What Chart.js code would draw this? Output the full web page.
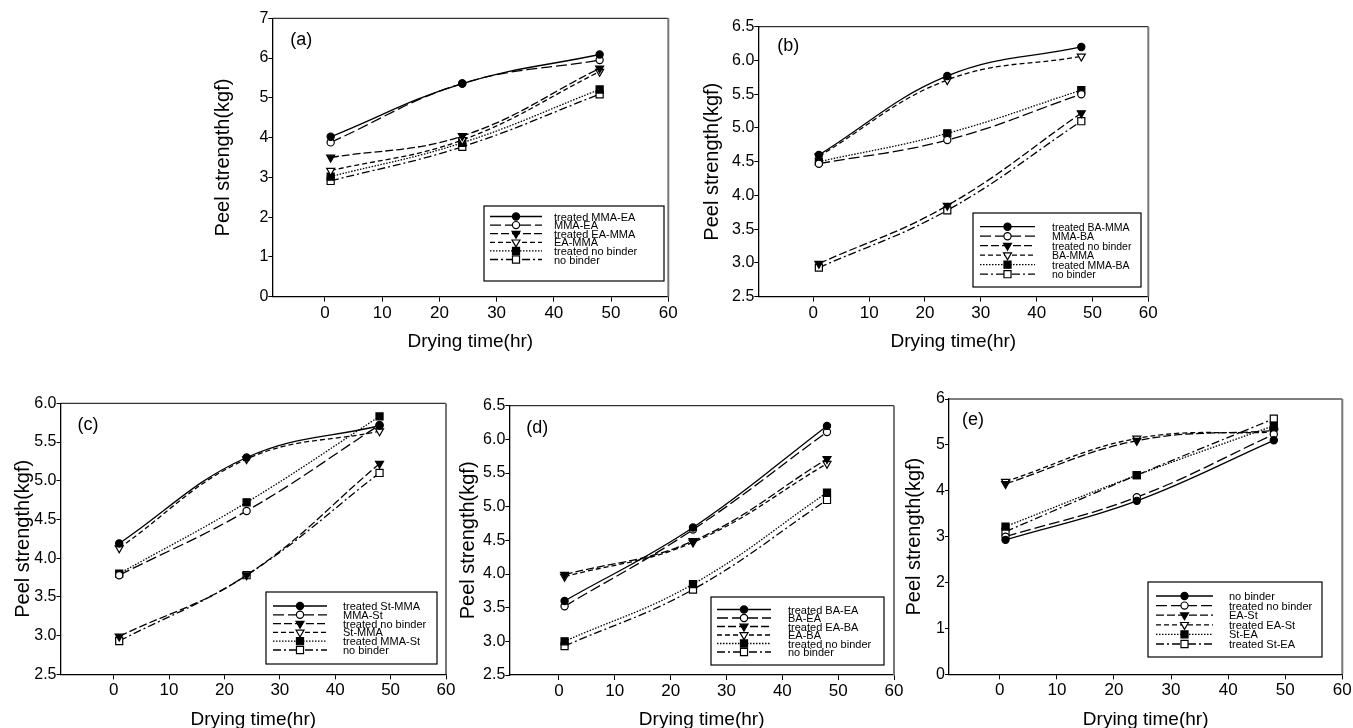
<!DOCTYPE html>
<html>
<head>
<meta charset="utf-8">
<script src="https://cdn.jsdelivr.net/npm/chart.js@4.4.1/dist/chart.umd.min.js"></script>
<style>
html,body{margin:0;padding:0;background:#fff;overflow:hidden;width:1353px;height:728px;}
canvas.panel{position:absolute;left:0;top:0;}
</style>
</head>
<body>
<canvas id="pa" class="panel" width="1353" height="780"></canvas>
<canvas id="pb" class="panel" width="1353" height="780"></canvas>
<canvas id="pc" class="panel" width="1353" height="780"></canvas>
<canvas id="pd" class="panel" width="1353" height="780"></canvas>
<canvas id="pe" class="panel" width="1353" height="780"></canvas>
<script>
// ---------- DATA ----------
const dryingHours = [1, 24, 48];
const xTickValues = [0, 10, 20, 30, 40, 50, 60];

const seriesA = ['treated MMA-EA', 'MMA-EA', 'treated EA-MMA', 'EA-MMA', 'treated no binder', 'no binder'];
const peelA = [[4.02, 5.36, 6.09], [3.88, 5.36, 5.95], [3.50, 4.04, 5.74], [3.17, 3.94, 5.66], [3.02, 3.87, 5.21], [2.91, 3.77, 5.09]];
const yTicksA = [0, 1, 2, 3, 4, 5, 6, 7];
const yLabelsA = ['0', '1', '2', '3', '4', '5', '6', '7'];

const seriesB = ['treated BA-MMA', 'MMA-BA', 'treated no binder', 'BA-MMA', 'treated MMA-BA', 'no binder'];
const peelB = [[4.60, 5.77, 6.20], [4.47, 4.82, 5.50], [2.99, 3.85, 5.22], [4.58, 5.71, 6.06], [4.50, 4.92, 5.56], [2.93, 3.78, 5.10]];
const yTicksB = [2.5, 3.0, 3.5, 4.0, 4.5, 5.0, 5.5, 6.0, 6.5];
const yLabelsB = ['2.5', '3.0', '3.5', '4.0', '4.5', '5.0', '5.5', '6.0', '6.5'];

const seriesC = ['treated St-MMA', 'MMA-St', 'treated no binder', 'St-MMA', 'treated MMA-St', 'no binder'];
const peelC = [[4.19, 5.30, 5.71], [3.78, 4.61, 5.72], [2.99, 3.78, 5.22], [4.13, 5.28, 5.64], [3.80, 4.72, 5.83], [2.93, 3.78, 5.10]];
const yTicksC = [2.5, 3.0, 3.5, 4.0, 4.5, 5.0, 5.5, 6.0];
const yLabelsC = ['2.5', '3.0', '3.5', '4.0', '4.5', '5.0', '5.5', '6.0'];

const seriesD = ['treated BA-EA', 'BA-EA', 'treated EA-BA', 'EA-BA', 'treated no binder', 'no binder'];
const peelD = [[3.60, 4.69, 6.20], [3.52, 4.66, 6.11], [3.99, 4.49, 5.71], [3.96, 4.47, 5.64], [3.00, 3.85, 5.21], [2.93, 3.77, 5.10]];
const yTicksD = [2.5, 3.0, 3.5, 4.0, 4.5, 5.0, 5.5, 6.0, 6.5];
const yLabelsD = ['2.5', '3.0', '3.5', '4.0', '4.5', '5.0', '5.5', '6.0', '6.5'];

const seriesE = ['no binder', 'treated no binder', 'EA-St', 'treated EA-St', 'St-EA', 'treated St-EA'];
const peelE = [[2.93, 3.78, 5.10], [3.00, 3.86, 5.23], [4.15, 5.09, 5.31], [4.20, 5.14, 5.28], [3.22, 4.34, 5.42], [3.11, 4.34, 5.57]];
const yTicksE = [0, 1, 2, 3, 4, 5, 6];
const yLabelsE = ['0', '1', '2', '3', '4', '5', '6'];

// ---------- STYLE ----------
const FONT = "'Liberation Sans', Arial, Helvetica, sans-serif";
const CW = 1353, CH = 780, HX = 60;
const DASHES = [[], [11, 4], [8, 3], [5, 3], [1.5, 1.5], [8, 3, 2, 3]];
const MARKERS = [
  {style: 'circle', rot: 0, r: 3.6, fill: '#000'},
  {style: 'circle', rot: 0, r: 3.6, fill: '#fff'},
  {style: 'triangle', rot: 180, r: 4.6, fill: '#000'},
  {style: 'triangle', rot: 180, r: 4.6, fill: '#fff'},
  {style: 'rect', rot: 0, r: 5, fill: '#000'},
  {style: 'rect', rot: 0, r: 5, fill: '#fff'}
];

const framePlugin = {
  id: 'frameBox',
  beforeDatasetsDraw(chart) {
    const {ctx, chartArea: a} = chart;
    ctx.save();
    ctx.strokeStyle = '#000';
    ctx.lineWidth = 1;
    ctx.beginPath();
    ctx.moveTo(a.left, a.top);
    ctx.lineTo(a.right, a.top);
    ctx.stroke();
    ctx.strokeStyle = '#777';
    ctx.lineWidth = 2;
    ctx.beginPath();
    ctx.moveTo(a.right, a.top);
    ctx.lineTo(a.right, a.bottom);
    ctx.stroke();
    ctx.restore();
  }
};

function marker(ctx, ds, x, y) {
  ctx.save();
  ctx.fillStyle = ds.pointBackgroundColor;
  ctx.strokeStyle = '#000';
  ctx.lineWidth = ds.pointBorderWidth;
  ctx.setLineDash([]);
  Chart.helpers.drawPoint(ctx, {pointStyle: ds.pointStyle, rotation: ds.pointRotation, radius: ds.pointRadius, borderWidth: ds.pointBorderWidth}, x, y);
  ctx.restore();
}

const legendPlugin = {
  id: 'boxLegend',
  afterDraw(chart, args, o) {
    const ctx = chart.ctx;
    ctx.save();
    ctx.fillStyle = '#fff';
    ctx.fillRect(o.x1, o.y1, o.x2 - o.x1, o.y2 - o.y1);
    ctx.strokeStyle = '#000';
    ctx.lineWidth = 1.2;
    ctx.strokeRect(o.x1, o.y1, o.x2 - o.x1, o.y2 - o.y1);
    chart.data.datasets.forEach((ds, i) => {
      const y = o.row0 + i * o.step;
      ctx.beginPath();
      ctx.setLineDash(ds.borderDash || []);
      ctx.lineWidth = ds.borderWidth;
      ctx.strokeStyle = '#000';
      ctx.moveTo(o.s1, y);
      ctx.lineTo(o.s2, y);
      ctx.stroke();
      ctx.setLineDash([]);
      marker(ctx, ds, (o.s1 + o.s2) / 2, y);
      ctx.fillStyle = '#000';
      ctx.font = o.size + 'px ' + FONT;
      ctx.textBaseline = 'middle';
      ctx.textAlign = 'left';
      ctx.fillText(ds.label, o.tx, y + 1);
    });
    ctx.restore();
  }
};

const tagPlugin = {
  id: 'panelTag',
  afterDraw(chart, args, o) {
    const {ctx, chartArea: a} = chart;
    ctx.save();
    ctx.fillStyle = '#000';
    ctx.font = '18px ' + FONT;
    ctx.textBaseline = 'middle';
    ctx.textAlign = 'left';
    ctx.fillText(o.text, a.left + o.dx, a.top + o.dy);
    ctx.restore();
  }
};

function makePanel(id, labels, values, yTicks, yLabels, g) {
  const datasets = labels.map((lab, i) => ({
    label: lab,
    data: dryingHours.map((h, j) => ({x: h, y: values[i][j]})),
    borderColor: '#000',
    borderWidth: 1.3,
    borderDash: DASHES[i],
    pointStyle: MARKERS[i].style,
    pointRotation: MARKERS[i].rot,
    pointRadius: MARKERS[i].r,
    pointBackgroundColor: MARKERS[i].fill,
    pointBorderColor: '#000',
    pointBorderWidth: 1.2,
    tension: 0.4,
    fill: false
  }));
  const wy = g.d + 20;
  return new Chart(document.getElementById(id), {
    type: 'line',
    data: {datasets},
    options: {
      responsive: false,
      animation: false,
      events: [],
      layout: {padding: {left: g.L - wy, top: g.T, right: CW - g.R, bottom: CH - g.B - HX}},
      plugins: {
        legend: {display: false},
        tooltip: {enabled: false},
        boxLegend: g.legend,
        panelTag: g.tag
      },
      scales: {
        x: {
          type: 'linear',
          min: g.xmin,
          max: 60,
          afterBuildTicks: s => { s.ticks = xTickValues.map(v => ({value: v})); },
          afterFit: s => { s.height = HX; },
          ticks: {font: {family: FONT, size: 17}, color: '#000', padding: 1, maxRotation: 0, autoSkip: false, callback: v => String(v)},
          grid: {display: true, drawOnChartArea: false, drawTicks: true, tickLength: 5, tickColor: '#000', color: '#000'},
          border: {display: true, color: '#000', width: 1.3},
          title: {display: true, text: 'Drying time(hr)', font: {family: FONT, size: 19}, color: '#000', padding: {top: 0, bottom: 3.6}}
        },
        y: {
          type: 'linear',
          min: yTicks[0],
          max: yTicks[yTicks.length - 1],
          afterBuildTicks: s => { s.ticks = yTicks.map(v => ({value: v})); },
          afterFit: s => { s.width = wy; },
          ticks: {font: {family: FONT, size: 16}, color: '#000', padding: 0, autoSkip: false, callback: (v, i) => yLabels[i]},
          grid: {display: true, drawOnChartArea: false, drawTicks: true, tickLength: 4, tickColor: '#000', color: '#000'},
          border: {display: true, color: '#000', width: 1.3},
          title: {display: true, text: 'Peel strength(kgf)', font: {family: FONT, size: 20}, color: '#000', padding: {top: 8, bottom: 0}}
        }
      }
    },
    plugins: [framePlugin, legendPlugin, tagPlugin]
  });
}

makePanel('pa', seriesA, peelA, yTicksA, yLabelsA, {
  L: 272.3, T: 18.3, R: 668.3, B: 296.7, xmin: -9.2, d: 49,
  tag: {text: '(a)', dx: 18, dy: 22},
  legend: {x1: 484, y1: 206, x2: 664, y2: 281, row0: 216.5, step: 8.6, s1: 490, s2: 542, tx: 554, size: 11}
});
makePanel('pb', seriesB, peelB, yTicksB, yLabelsB, {
  L: 758.3, T: 26.7, R: 1148.3, B: 296.7, xmin: -9.85, d: 46,
  tag: {text: '(b)', dx: 19, dy: 19},
  legend: {x1: 973, y1: 213, x2: 1141, y2: 287, row0: 226.7, step: 9.5, s1: 980, s2: 1035, tx: 1052, size: 10.5}
});
makePanel('pc', seriesC, peelC, yTicksC, yLabelsC, {
  L: 60.5, T: 403.3, R: 446, B: 674.3, xmin: -9.6, d: 37,
  tag: {text: '(c)', dx: 17, dy: 22},
  legend: {x1: 266, y1: 592, x2: 437, y2: 664, row0: 606, step: 8.8, s1: 273, s2: 327, tx: 343, size: 11}
});
makePanel('pd', seriesD, peelD, yTicksD, yLabelsD, {
  L: 509.3, T: 405.7, R: 894, B: 675, xmin: -8.9, d: 41,
  tag: {text: '(d)', dx: 17, dy: 22.5},
  legend: {x1: 711, y1: 597, x2: 884, y2: 665, row0: 609.5, step: 8.5, s1: 717, s2: 771, tx: 788, size: 11}
});
makePanel('pe', seriesE, peelE, yTicksE, yLabelsE, {
  L: 949, T: 399, R: 1342.3, B: 674.3, xmin: -8.9, d: 35,
  tag: {text: '(e)', dx: 13, dy: 21},
  legend: {x1: 1148, y1: 582, x2: 1322, y2: 657, row0: 596, step: 9.6, s1: 1156, s2: 1213, tx: 1229, size: 11}
});
</script>
</body>
</html>
